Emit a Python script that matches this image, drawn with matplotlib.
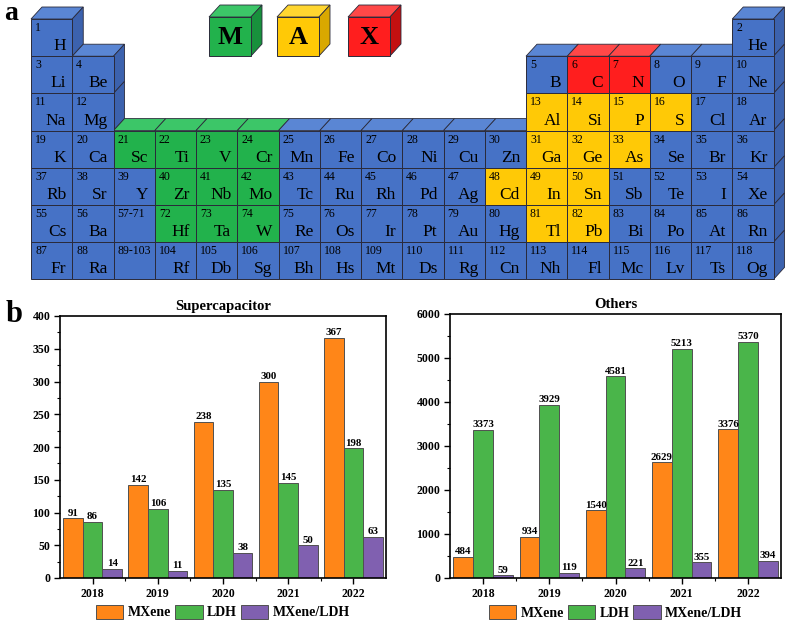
import matplotlib
matplotlib.use("Agg")
import matplotlib.pyplot as plt
from matplotlib.patches import Polygon, Rectangle
from matplotlib.ticker import MultipleLocator, FixedLocator
import numpy as np

# ---- data ----
years = ["2018", "2019", "2020", "2021", "2022"]
sc_mxene = [91, 142, 238, 300, 367]
sc_ldh = [86, 106, 135, 145, 198]
sc_hybrid = [14, 11, 38, 50, 63]
ot_mxene = [484, 934, 1540, 2629, 3376]
ot_ldh = [3373, 3929, 4581, 5213, 5370]
ot_hybrid = [59, 119, 221, 355, 394]
series_names = ["MXene", "LDH", "MXene/LDH"]

# periodic table rows, '' = empty slot, '*' = lanthanide/actinide block
period_rows = [
    ["H"] + [""] * 16 + ["He"],
    ["Li", "Be"] + [""] * 10 + ["B", "C", "N", "O", "F", "Ne"],
    ["Na", "Mg"] + [""] * 10 + ["Al", "Si", "P", "S", "Cl", "Ar"],
    "K Ca Sc Ti V Cr Mn Fe Co Ni Cu Zn Ga Ge As Se Br Kr".split(),
    "Rb Sr Y Zr Nb Mo Tc Ru Rh Pd Ag Cd In Sn Sb Te I Xe".split(),
    "Cs Ba * Hf Ta W Re Os Ir Pt Au Hg Tl Pb Bi Po At Rn".split(),
    "Fr Ra * Rf Db Sg Bh Hs Mt Ds Rg Cn Nh Fl Mc Lv Ts Og".split(),
]
m_elements = ["Sc", "Ti", "V", "Cr", "Zr", "Nb", "Mo", "Hf", "Ta", "W"]
a_elements = ["Al", "Si", "P", "S", "Ga", "Ge", "As", "Cd", "In", "Sn", "Tl", "Pb"]
x_elements = ["C", "N"]

# face colours: front, top, right
palette = {
    "base": ("#4672C6", "#5A86D4", "#3C62AE"),
    "M": ("#22B24C", "#3CC668", "#18903C"),
    "A": ("#FFC906", "#FFD630", "#D9A800"),
    "X": ("#FF1E1E", "#FF4848", "#C31010"),
}
bar_colors = ["#FF8618", "#4AB54A", "#8060B0"]

SERIF = "Liberation Serif"
W, H = 795, 621

fig = plt.figure(figsize=(W / 100, H / 100), dpi=100)

# ---- panel a: periodic table drawn in pixel coordinates ----
pt = fig.add_axes([0, 0, 1, 1])
pt.set_xlim(0, W)
pt.set_ylim(H, 0)
pt.axis("off")

left, top = 31, 19
cw, ch = 41.25, 37.2
dx, dy = 11, 12
edge = "#2a2a3a"


def kind_of(sym):
    if sym in m_elements:
        return "M"
    if sym in a_elements:
        return "A"
    if sym in x_elements:
        return "X"
    return "base"


def top_face(x0, y0, w, col):
    pts = [(x0, y0), (x0 + w, y0), (x0 + w + dx, y0 - dy), (x0 + dx, y0 - dy)]
    pt.add_patch(Polygon(pts, closed=True, fc=col, ec=edge, lw=0.6))


def right_face(x0, y0, w, h, col):
    pts = [(x0 + w, y0), (x0 + w, y0 + h), (x0 + w + dx, y0 + h - dy), (x0 + w + dx, y0 - dy)]
    pt.add_patch(Polygon(pts, closed=True, fc=col, ec=edge, lw=0.6))


cells = {}
z = 0
for r, row in enumerate(period_rows):
    for c, sym in enumerate(row):
        if not sym:
            continue
        if sym == "*":
            label = "57-71" if r == 5 else "89-103"
            cells[(r, c)] = ("", label, "base")
            z += 15
        else:
            z += 1
            cells[(r, c)] = (sym, str(z), kind_of(sym))

# side faces first, fronts on top
for (r, c), (sym, num, kind) in cells.items():
    x0, y0 = left + c * cw, top + r * ch
    cols = palette[kind]
    if (r - 1, c) not in cells:
        top_face(x0, y0, cw, cols[1])
    if (r, c + 1) not in cells:
        right_face(x0, y0, cw, ch, cols[2])

for (r, c), (sym, num, kind) in cells.items():
    x0, y0 = left + c * cw, top + r * ch
    pt.add_patch(Rectangle((x0, y0), cw, ch, fc=palette[kind][0], ec=edge, lw=0.7))
    pt.text(x0 + 4, y0 + 3, num, fontsize=8.5, family=SERIF, ha="left", va="top")
    if sym:
        pt.text(x0 + cw - 6, y0 + ch - 6, sym, fontsize=12.5, family=SERIF,
                ha="right", va="baseline")

# the M / A / X legend cubes
for cx, key in zip([209, 277, 348], ["M", "A", "X"]):
    cy, w, h = 17, 42, 39
    cols = palette[key]
    top_face(cx, cy, w, cols[1])
    right_face(cx, cy, w, h, cols[2])
    pt.add_patch(Rectangle((cx, cy), w, h, fc=cols[0], ec=edge, lw=0.7))
    pt.text(cx + w / 2, cy + h / 2 + 1, key, fontsize=19, fontweight="bold",
            family=SERIF, ha="center", va="center")

fig.text(4 / W, 1 - 20 / H, "a", fontsize=20, fontweight="bold", family=SERIF,
         ha="left", va="baseline")
fig.text(6 / W, 1 - 322 / H, "b", fontsize=22, fontweight="bold", family=SERIF,
         ha="left", va="baseline")

# ---- panel b: bar charts ----


def bar_panel(rect, title, values, ymax, major, minor):
    ax = fig.add_axes(rect)
    x = np.arange(len(years))
    bw = 0.3
    for i, (vals, col, name) in enumerate(zip(values, bar_colors, series_names)):
        bars = ax.bar(x + (i - 1) * bw, vals, bw, color=col, edgecolor="#505050",
                      linewidth=0.7, label=name)
        ax.bar_label(bars, padding=0.5, fontsize=7.8, fontweight="bold", family=SERIF)
    ax.set_xlim(-0.5, len(years) - 0.5)
    ax.set_ylim(0, ymax)
    ax.set_xticks(x)
    ax.set_xticklabels(years)
    ax.xaxis.set_minor_locator(FixedLocator(x[:-1] + 0.5))
    ax.yaxis.set_major_locator(MultipleLocator(major))
    ax.yaxis.set_minor_locator(MultipleLocator(minor))
    ax.tick_params(which="major", direction="out", length=4, width=1, pad=3)
    ax.tick_params(which="minor", direction="out", length=2, width=0.8)
    for lab in ax.get_xticklabels() + ax.get_yticklabels():
        lab.set_family(SERIF)
        lab.set_fontweight("bold")
        lab.set_fontsize(8.5)
    for s in ax.spines.values():
        s.set_linewidth(1.2)
    ax.set_title(title, fontsize=10.5, fontweight="bold", family=SERIF, pad=4)
    ax.legend(loc="center", bbox_to_anchor=(0.5, -0.13), ncol=3, frameon=False,
              prop={"family": SERIF, "weight": "bold", "size": 10},
              handlelength=1.95, handleheight=1.15, handletextpad=0.32,
              columnspacing=0.3, borderaxespad=0)
    return ax


bar_panel([60 / W, 43 / H, 326 / W, 262 / H], "Supercapacitor",
          [sc_mxene, sc_ldh, sc_hybrid], 400, 50, 25)
bar_panel([450 / W, 43 / H, 331 / W, 264 / H], "Others",
          [ot_mxene, ot_ldh, ot_hybrid], 6000, 1000, 500)

fig.savefig("out.png", dpi=100)
